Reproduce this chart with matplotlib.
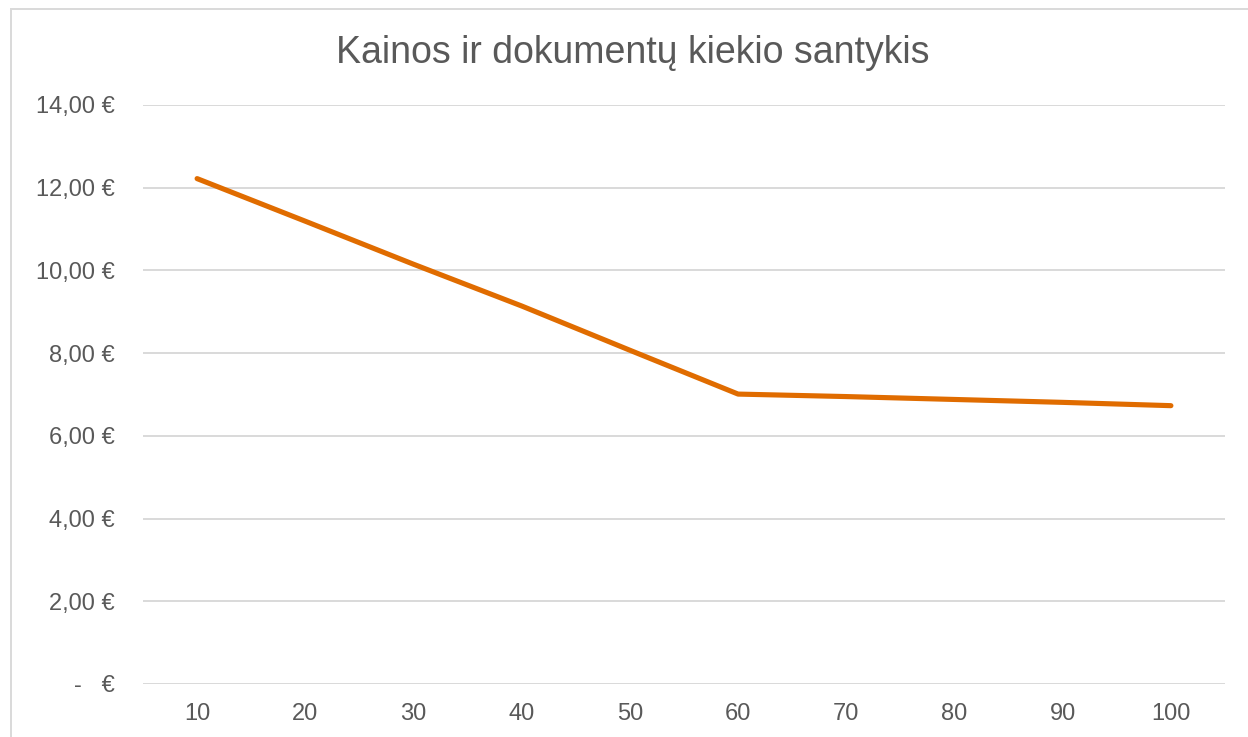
import matplotlib
matplotlib.use("Agg")
import matplotlib.pyplot as plt
from matplotlib.patches import Rectangle
from matplotlib.ticker import FixedLocator, FuncFormatter

categories = ["10", "20", "30", "40", "50", "60", "70", "80", "90", "100"]
prices = [12.22, 11.19, 10.15, 9.14, 8.07, 7.01, 6.95, 6.88, 6.81, 6.73]
title = "Kainos ir dokumentų kiekio santykis"
y_ticks = [0, 2, 4, 6, 8, 10, 12, 14]

TEXT = "#595959"
GRID = "#D9D9D9"
LINE = "#E06C00"

plt.rcParams['font.family'] = ['Liberation Sans', 'DejaVu Sans']

W, H = 1248, 737
fig = plt.figure(figsize=(W / 100, H / 100), dpi=100)
fig.patch.set_facecolor("white")

# outer chart border (right and bottom edges fall outside the image)
fig.add_artist(Rectangle((11 / W, -0.05), 1.0, 1 - 9 / H + 0.05,
                         transform=fig.transFigure, fill=False,
                         edgecolor=GRID, linewidth=1.4))

ax = fig.add_axes([143 / W, (H - 684) / H, (1225 - 143) / W, (684 - 105) / H])
x = list(range(len(categories)))
ax.plot(x, prices, color=LINE, linewidth=3.7, solid_capstyle="round",
        solid_joinstyle="round", zorder=3)

ax.set_xlim(-0.5, len(categories) - 0.5)
ax.set_ylim(0, 14)
ax.set_xticks(x)
ax.set_xticklabels(categories)
ax.yaxis.set_major_locator(FixedLocator(y_ticks))


def fmt(v, pos):
    if v == 0:
        return "-   €"
    return f"{v:.2f}".replace(".", ",") + " €"


ax.yaxis.set_major_formatter(FuncFormatter(fmt))
ax.grid(axis="y", color=GRID, linewidth=1.4)
ax.set_axisbelow(True)
for s in ax.spines.values():
    s.set_visible(False)
ax.tick_params(axis="both", length=0, labelsize=17, labelcolor=TEXT)
ax.tick_params(axis="x", pad=13.5)
ax.tick_params(axis="y", pad=20)

fig.text((337 + 928) / 2 / W, 1 - 53 / H, title, ha="center", va="center",
         fontsize=27, color=TEXT)

fig.savefig("out.png", dpi=100, facecolor="white")
